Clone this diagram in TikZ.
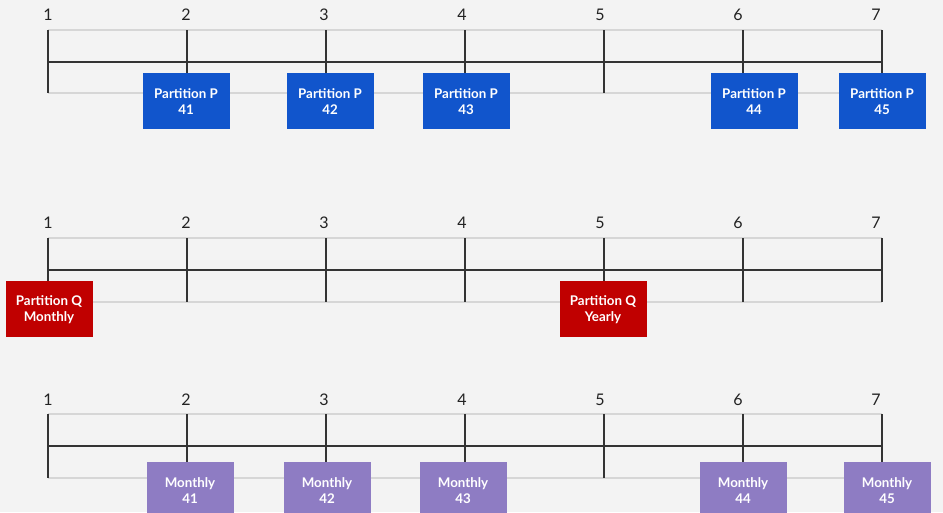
\documentclass[tikz,border=0pt]{standalone}
\usepackage{fontspec}
\setmainfont{Lato}
\definecolor{pblue}{HTML}{1155CC}
\definecolor{qred}{HTML}{C00000}
\definecolor{mpurple}{HTML}{8E7CC3}
\definecolor{bggray}{HTML}{F3F3F3}
\definecolor{railgray}{HTML}{D6D6D6}
\definecolor{tickgray}{HTML}{333333}
\definecolor{numgray}{HTML}{222222}
\tikzset{
  tick/.style={draw=tickgray,line width=0.8pt},
  rail/.style={draw=railgray,line width=1.1pt},
  num/.style={font=\fontsize{12}{14}\selectfont,text=numgray,inner sep=0pt},
  part/.style={font=\bfseries\fontsize{10}{12}\selectfont,text=white,align=center,
    minimum width=65.25pt,minimum height=42pt,inner sep=0pt,anchor=north},
}
\begin{document}
\begin{tikzpicture}[x=0.75pt,y=-0.75pt]
\clip (0,0) rectangle (943,512);
\fill[bggray] (0,0) rectangle (943,512);

% first row: partition P
\foreach \i in {1,...,7}{
  \node[num] (pn\i) at ({48+138*(\i-1)},15) {\i};
  \coordinate (pt\i) at ({48+139*(\i-1)},30);
  \coordinate (pa\i) at ({48+139*(\i-1)},62);
  \coordinate (pb\i) at ({48+139*(\i-1)},93);
}
\draw[rail] (pt1) -- (pt7);
\draw[rail] (pb1) -- (pb7);
\draw[tick] (pa1) -- (pa7);
\node[part,fill=pblue] (p41) at (186,73) {Partition P\\41};
\node[part,fill=pblue] (p42) at (330,73) {Partition P\\42};
\node[part,fill=pblue] (p43) at (466,73) {Partition P\\43};
\node[part,fill=pblue] (p44) at (754,73) {Partition P\\44};
\node[part,fill=pblue] (p45) at (882,73) {Partition P\\45};
\draw[tick] (pt1) -- (pb1);
\draw[tick] (pt2) -- (pt2 |- p41.north);
\draw[tick] (pt3) -- (pt3 |- p42.north);
\draw[tick] (pt4) -- (pt4 |- p43.north);
\draw[tick] (pt5) -- (pb5);
\draw[tick] (pt6) -- (pt6 |- p44.north);
\draw[tick] (pt7) -- (pt7 |- p45.north);

% second row: partition Q
\foreach \i in {1,...,7}{
  \node[num] (qn\i) at ({48+138*(\i-1)},223) {\i};
  \coordinate (qt\i) at ({48+139*(\i-1)},238);
  \coordinate (qa\i) at ({48+139*(\i-1)},270);
  \coordinate (qb\i) at ({48+139*(\i-1)},302);
}
\draw[rail] (qt1) -- (qt7);
\draw[rail] (qb1) -- (qb7);
\draw[tick] (qa1) -- (qa7);
\foreach \i in {2,3,4,6,7}
  \draw[tick] (qt\i) -- (qb\i);
\node[part,fill=qred] (qmon) at (49,281) {Partition Q\\Monthly};
\node[part,fill=qred] (qyear) at (603,281) {Partition Q\\Yearly};
\draw[tick] (qt1) -- (qt1 |- qmon.north);
\draw[tick] (qt5) -- (qt5 |- qyear.north);

% third row: monthly
\foreach \i in {1,...,7}{
  \node[num] (mn\i) at ({48+138*(\i-1)},400) {\i};
  \coordinate (mt\i) at ({48+139*(\i-1)},414);
  \coordinate (ma\i) at ({48+139*(\i-1)},446);
  \coordinate (mb\i) at ({48+139*(\i-1)},478);
}
\draw[rail] (mt1) -- (mt7);
\draw[rail] (mb1) -- (mb7);
\draw[tick] (ma1) -- (ma7);
\node[part,fill=mpurple] (m41) at (190,462) {Monthly\\41};
\node[part,fill=mpurple] (m42) at (327,462) {Monthly\\42};
\node[part,fill=mpurple] (m43) at (463,462) {Monthly\\43};
\node[part,fill=mpurple] (m44) at (743,462) {Monthly\\44};
\node[part,fill=mpurple] (m45) at (887,462) {Monthly\\45};
\draw[tick] (mt1) -- (mb1);
\draw[tick] (mt2) -- (mt2 |- m41.north);
\draw[tick] (mt3) -- (mt3 |- m42.north);
\draw[tick] (mt4) -- (mt4 |- m43.north);
\draw[tick] (mt5) -- (mb5);
\draw[tick] (mt6) -- (mt6 |- m44.north);
\draw[tick] (mt7) -- (mt7 |- m45.north);
\end{tikzpicture}
\end{document}
